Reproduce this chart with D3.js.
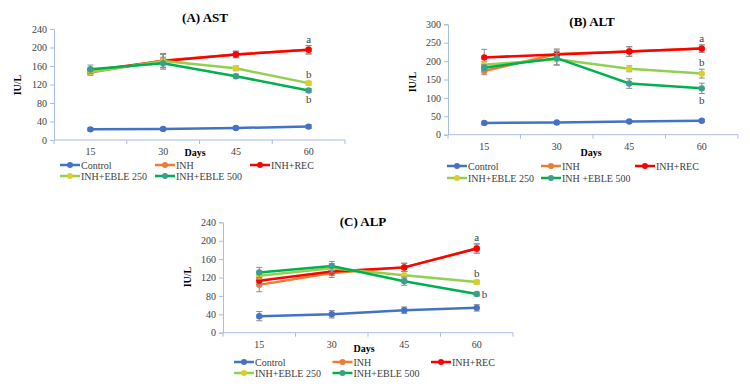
<!DOCTYPE html>
<html>
<head>
<meta charset="utf-8">
<script src="https://cdn.jsdelivr.net/npm/d3@7"></script>
<style>
  body { margin: 0; background: #fff; }
  svg { display: block; font-family: "Liberation Serif", "Times New Roman", serif; }
</style>
</head>
<body>
<div id="chart-container"></div>
<script>
// Data
const days = ["15", "30", "45", "60"];
const seriesNames = ["Control", "INH", "INH+REC", "INH+EBLE 250", "INH+EBLE 500"];
const seriesNamesALT = ["Control", "INH", "INH+REC", "INH+EBLE 250", "INH +EBLE 500"];

// (A) AST, IU/L
const astControl = [23, 24, 26, 29];
const astINH = [146, 172, 185, 195];
const astREC = [150, 171, 185, 195];
const astE250 = [147, 171, 155, 123];
const astE500 = [153, 166, 138, 107];
const astErr = [[3, 3, 3, 4], [6, 15, 7, 9], [6, 15, 7, 9], [5, 14, 5, 4], [9, 13, 4, 4]];

// (B) ALT, IU/L
const altControl = [32, 33, 36, 38];
const altINH = [173, 219, 226, 234];
const altREC = [210, 218, 226, 234];
const altE250 = [190, 205, 179, 166];
const altE500 = [182, 208, 139, 126];
const altErr = [[3, 3, 3, 3], [10, 14, 13, 10], [22, 12, 13, 10], [8, 16, 8, 12], [8, 18, 13, 14]];

// (C) ALP, IU/L
const alpControl = [36, 40, 49, 54];
const alpINH = [104, 130, 142, 183];
const alpREC = [113, 133, 142, 183];
const alpE250 = [124, 140, 125, 110];
const alpE500 = [131, 145, 112, 84];
const alpErr = [[10, 8, 7, 7], [15, 10, 9, 10], [8, 9, 9, 10], [8, 10, 8, 4], [11, 10, 9, 4]];

const astTicks = [0, 40, 80, 120, 160, 200, 240];
const altTicks = [0, 50, 100, 150, 200, 250, 300];
const alpTicks = [0, 40, 80, 120, 160, 200, 240];

// significance letters: series index, day index, text, placement
const astLetters = [[2, 3, "a", "above"], [3, 3, "b", "above"], [4, 3, "b", "below"]];
const altLetters = [[2, 3, "a", "above"], [3, 3, "b", "above"], [4, 3, "b", "below"]];
const alpLetters = [[2, 3, "a", "above"], [3, 3, "b", "above"], [4, 3, "b", "right"]];

// Styles
const lineColors = ["#4472C4", "#ED7D31", "#FF0000", "#92D050", "#00B050"];
const markerColors = ["#4472C4", "#ED7D31", "#FF0000", "#D8CF2C", "#3C9E8C"];
const AXIS_COLOR = "#A9BDE3";
const TEXT_COLOR = "#404040";

const svg = d3.select("#chart-container").append("svg")
  .attr("width", 750).attr("height", 390);

function drawPanel(p) {
  const g = svg.append("g");
  const x = d3.scaleBand().domain(days).range([p.left, p.right]);
  const y = d3.scaleLinear().domain([0, p.ticks[p.ticks.length - 1]]).range([p.bottom, p.top]);

  // y axis
  const yAx = g.append("g").attr("transform", `translate(${p.left},0)`)
    .call(d3.axisLeft(y).tickValues(p.ticks).tickSize(4).tickPadding(3));
  // x axis, ticks at band edges
  const xAx = g.append("g").attr("transform", `translate(0,${p.bottom})`)
    .call(d3.axisBottom(x).tickSize(0).tickPadding(8));
  [yAx, xAx].forEach(a => {
    a.selectAll("path, line").attr("stroke", AXIS_COLOR);
    a.selectAll("text").attr("fill", TEXT_COLOR).attr("font-size", 10)
      .attr("font-family", "Liberation Serif");
  });
  xAx.select(".domain").attr("d", `M${p.left},0H${p.right}`);
  xAx.selectAll(".edge").data(d3.range(days.length + 1)).enter().append("line")
    .attr("x1", i => p.left + i * x.step()).attr("x2", i => p.left + i * x.step())
    .attr("y1", 0).attr("y2", 4).attr("stroke", AXIS_COLOR);

  // series
  const line = d3.line().x((d, i) => x(days[i]) + x.bandwidth() / 2).y(d => y(d));
  p.series.forEach((vals, s) => {
    const sg = g.append("g");
    vals.forEach((v, i) => {
      const cx = x(days[i]) + x.bandwidth() / 2;
      const e = p.err[s][i];
      sg.append("line").attr("x1", cx).attr("x2", cx).attr("y1", y(v - e)).attr("y2", y(v + e))
        .attr("stroke", "#8c8c8c").attr("stroke-width", 1);
      [v - e, v + e].forEach(ev => sg.append("line")
        .attr("x1", cx - 3).attr("x2", cx + 3).attr("y1", y(ev)).attr("y2", y(ev))
        .attr("stroke", "#8c8c8c").attr("stroke-width", 1));
    });
    sg.append("path").datum(vals).attr("d", line).attr("fill", "none")
      .attr("stroke", lineColors[s]).attr("stroke-width", 2.5);
    sg.selectAll("circle").data(vals).enter().append("circle")
      .attr("cx", (d, i) => x(days[i]) + x.bandwidth() / 2).attr("cy", d => y(d))
      .attr("r", 3.2).attr("fill", markerColors[s]);
  });

  // letters
  p.letters.forEach(([s, i, t, pos]) => {
    const v = p.series[s][i];
    const cx = x(days[i]) + x.bandwidth() / 2;
    const e = p.err[s][i];
    let tx = cx, ty, anchor = "middle";
    if (pos === "above") ty = y(v + e) - 3;
    else if (pos === "below") ty = y(v - e) + 11;
    else { tx = cx + 5; ty = y(v) + 4; anchor = "start"; }
    g.append("text").attr("x", tx).attr("y", ty).attr("text-anchor", anchor)
      .attr("font-size", 11).attr("fill", TEXT_COLOR).text(t);
  });

  // titles
  g.append("text").attr("x", p.titleX).attr("y", p.titleY).attr("text-anchor", "middle")
    .attr("font-size", 13).attr("font-weight", "bold").attr("fill", "#000").text(p.title);
  g.append("text").attr("transform", `translate(${p.yTitleX},${p.yTitleY}) rotate(-90)`)
    .attr("text-anchor", "middle").attr("font-size", 10).attr("font-weight", "bold")
    .attr("fill", "#000").text("IU/L");
  g.append("text").attr("x", p.daysX).attr("y", p.daysY).attr("text-anchor", "middle")
    .attr("font-size", 10).attr("font-weight", "bold").attr("fill", "#000").text("Days");

  // legend
  p.names.forEach((name, s) => {
    const lx = p.legX + (s % 3) * p.legDx;
    const ly = p.legRows[Math.floor(s / 3)];
    g.append("line").attr("x1", lx).attr("x2", lx + 20).attr("y1", ly).attr("y2", ly)
      .attr("stroke", lineColors[s]).attr("stroke-width", 2.5);
    g.append("circle").attr("cx", lx + 10).attr("cy", ly).attr("r", 3).attr("fill", markerColors[s]);
    g.append("text").attr("x", lx + 21).attr("y", ly + 3.5).attr("font-size", 10)
      .attr("fill", TEXT_COLOR).text(name);
  });
}

drawPanel({
  title: "(A) AST", names: seriesNames, ticks: astTicks,
  series: [astControl, astINH, astREC, astE250, astE500], err: astErr, letters: astLetters,
  left: 54, right: 345, top: 29, bottom: 140,
  titleX: 205, titleY: 22, yTitleX: 21, yTitleY: 85, daysX: 195, daysY: 156,
  legX: 60, legDx: 95, legRows: [165, 176]
});

drawPanel({
  title: "(B) ALT", names: seriesNamesALT, ticks: altTicks,
  series: [altControl, altINH, altREC, altE250, altE500], err: altErr, letters: altLetters,
  left: 448, right: 738, top: 24.3, bottom: 134.7,
  titleX: 592, titleY: 26, yTitleX: 416, yTitleY: 82, daysX: 591, daysY: 156,
  legX: 447, legDx: 94, legRows: [166, 178]
});

drawPanel({
  title: "(C) ALP", names: seriesNames, ticks: alpTicks,
  series: [alpControl, alpINH, alpREC, alpE250, alpE500], err: alpErr, letters: alpLetters,
  left: 223, right: 513, top: 222.3, bottom: 332.7,
  titleX: 363, titleY: 226, yTitleX: 191, yTitleY: 277, daysX: 364, daysY: 352,
  legX: 234, legDx: 98.5, legRows: [362, 373]
});
</script>
</body>
</html>
